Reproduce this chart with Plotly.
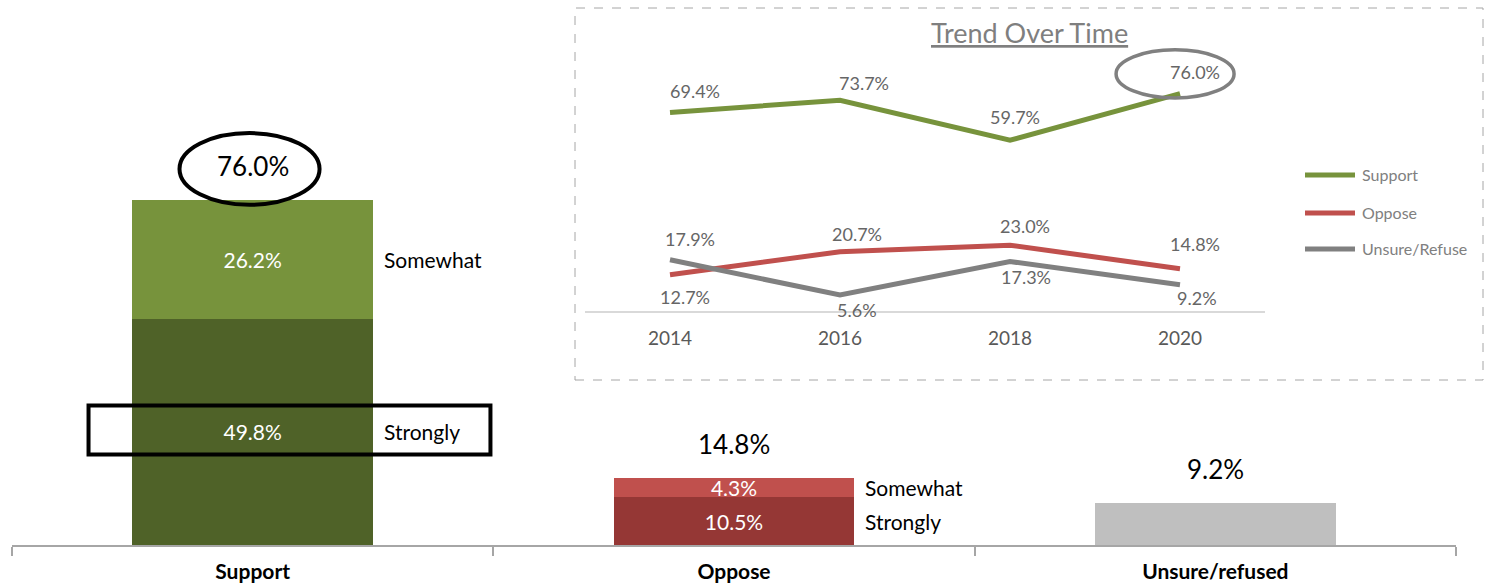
import plotly.graph_objects as go

# ---------------- data ----------------
categories = ["Support", "Oppose", "Unsure/refused"]
strongly = [49.8, 10.5]
somewhat = [26.2, 4.3]
unsure = [9.2]
totals = [76.0, 14.8, 9.2]
segment_labels = ["Somewhat", "Strongly"]

years = ["2014", "2016", "2018", "2020"]
trend_support = [69.4, 73.7, 59.7, 76.0]
trend_oppose = [12.7, 20.7, 23.0, 14.8]
trend_unsure = [17.9, 5.6, 17.3, 9.2]
trend_names = ["Support", "Oppose", "Unsure/Refuse"]

# ---------------- style ----------------
FONT = "Lato"
W, H = 1491, 585
col_strong = ["#4F6228", "#953735"]
col_some = ["#77933C", "#C0504D"]
col_unsure = "#BFBFBF"
trend_colors = ["#77933C", "#C0504D", "#808080"]
# label offsets (px) for the trend labels: (xshift, yshift)
label_offsets = [
    [(25, 21), (24, 17), (5, 23), (15, 22)],
    [(15, -22), (17, 18), (15, 19), (15, 25)],
    [(20, 21), (17, -15), (16, -15), (17, -13)],
]
legend_y_px = [175, 213, 249]

def px_x(p):
    return p / W

def px_y(p):
    return (545 - p) / 545

fig = go.Figure()

fmt = lambda v: f"{v:.1f}%"

fig.add_trace(go.Bar(
    x=categories[:2], y=strongly, width=0.5,
    marker=dict(color=col_strong, line=dict(width=0)),
    text=[fmt(v) for v in strongly], textposition="inside",
    insidetextanchor="middle", constraintext="none",
    textfont=dict(family=FONT, size=21, color="white"),
    showlegend=False, hoverinfo="skip"))
fig.add_trace(go.Bar(
    x=categories[:2], y=somewhat, width=0.5,
    marker=dict(color=col_some, line=dict(width=0)),
    text=[fmt(v) for v in somewhat], textposition="inside",
    insidetextanchor="middle", constraintext="none",
    textfont=dict(family=FONT, size=21, color="white"),
    showlegend=False, hoverinfo="skip"))
fig.add_trace(go.Bar(
    x=categories[2:], y=unsure, width=0.5,
    marker=dict(color=col_unsure, line=dict(width=0)),
    showlegend=False, hoverinfo="skip"))

annotations = []
for i, t in enumerate(totals):
    annotations.append(dict(x=i, y=t, xref="x", yref="y",
                            text=fmt(t), showarrow=False, yanchor="bottom", yshift=16,
                            font=dict(family=FONT, size=26, color="black")))
for i in range(2):
    annotations.append(dict(x=i + 0.25, y=strongly[i] + somewhat[i] / 2, xref="x", yref="y",
                            text=segment_labels[0], showarrow=False, xanchor="left", yanchor="middle",
                            xshift=9, font=dict(family=FONT, size=21, color="black")))
    annotations.append(dict(x=i + 0.25, y=strongly[i] / 2, xref="x", yref="y",
                            text=segment_labels[1], showarrow=False, xanchor="left", yanchor="middle",
                            xshift=9, font=dict(family=FONT, size=21, color="black")))

# ---------------- inset trend chart ----------------
for k, series in enumerate([trend_support, trend_oppose, trend_unsure]):
    fig.add_trace(go.Scatter(
        x=years, y=series, mode="lines", xaxis="x2", yaxis="y2",
        line=dict(color=trend_colors[k], width=5),
        name=trend_names[k], showlegend=False, hoverinfo="skip"))
    for j, v in enumerate(series):
        dx, dy = label_offsets[k][j]
        annotations.append(dict(x=j, y=v, xref="x2", yref="y2", text=fmt(v),
                                showarrow=False, xshift=dx, yshift=dy,
                                xanchor="center", yanchor="middle",
                                font=dict(family=FONT, size=18, color="#666666")))
    # legend
    annotations.append(dict(x=px_x(1360), y=px_y(legend_y_px[k]), xref="paper", yref="paper",
                            text=trend_names[k], showarrow=False, xanchor="left", yanchor="middle",
                            font=dict(family=FONT, size=16, color="#808080")))

annotations.append(dict(x=px_x(1029), y=px_y(33), xref="paper", yref="paper",
                        text="<u>Trend Over Time</u>", showarrow=False,
                        xanchor="center", yanchor="middle",
                        font=dict(family=FONT, size=27, color="#7F7F7F")))

shapes = []
# inset dashed box
shapes.append(dict(type="rect", xref="paper", yref="paper",
                   x0=px_x(575), x1=px_x(1483), y0=px_y(380), y1=px_y(8),
                   line=dict(color="#A6A6A6", width=1, dash="dash"), layer="below"))
for k in range(3):
    shapes.append(dict(type="line", xref="paper", yref="paper",
                       x0=px_x(1305), x1=px_x(1355), y0=px_y(legend_y_px[k]), y1=px_y(legend_y_px[k]),
                       line=dict(color=trend_colors[k], width=5)))
# highlight ellipse on the Support total
shapes.append(dict(type="circle", xref="x", yref="y",
                   x0=-0.152, x1=0.139, y0=totals[0] - 1.1, y1=totals[0] + 14.7,
                   line=dict(color="black", width=4)))
# highlight box on the Strongly segment
shapes.append(dict(type="rect", xref="x", yref="y",
                   x0=-0.341, x1=0.494, y0=strongly[0] / 2 - 5.0, y1=strongly[0] / 2 + 5.8,
                   line=dict(color="black", width=4)))
# highlight ellipse on the 2020 trend value
shapes.append(dict(type="circle", xref="x2", yref="y2",
                   x0=2.624, x1=3.318, y0=trend_support[3] - 1.5, y1=trend_support[3] + 15.3,
                   line=dict(color="#808080", width=3.5)))

fig.update_layout(
    width=W, height=H,
    margin=dict(l=0, r=0, t=0, b=40),
    paper_bgcolor="white", plot_bgcolor="rgba(0,0,0,0)",
    barmode="stack",
    font=dict(family=FONT),
    xaxis=dict(domain=[px_x(12), px_x(1456)], type="category", range=[-0.5, 2.5],
               showline=True, linecolor="#A6A6A6", linewidth=2,
               ticks="outside", tickson="boundaries", ticklen=9, tickcolor="#A6A6A6", tickwidth=1.5,
               tickfont=dict(family=FONT, size=21, color="black"),
               tickvals=categories, ticktext=[f"<b>{c}</b>" for c in categories],
               ticklabelstandoff=7,
               showgrid=False, zeroline=False, fixedrange=True),
    yaxis=dict(domain=[0, 1], range=[0, 120], visible=False, fixedrange=True),
    xaxis2=dict(domain=[px_x(585), px_x(1265)], anchor="y2", type="category",
                range=[-0.5, 3.5], showline=True, linecolor="#D9D9D9", linewidth=2,
                ticks="", tickfont=dict(family=FONT, size=19, color="#595959"),
                ticklabelstandoff=9, showgrid=False, zeroline=False),
    yaxis2=dict(domain=[px_y(311), px_y(45)], anchor="x2", range=[0, 93],
                visible=False),
    annotations=annotations,
    shapes=shapes,
)

fig.write_html("out.html", config={"displayModeBar": False},
               post_script="document.body.style.margin='0px';document.body.style.overflow='hidden';")
